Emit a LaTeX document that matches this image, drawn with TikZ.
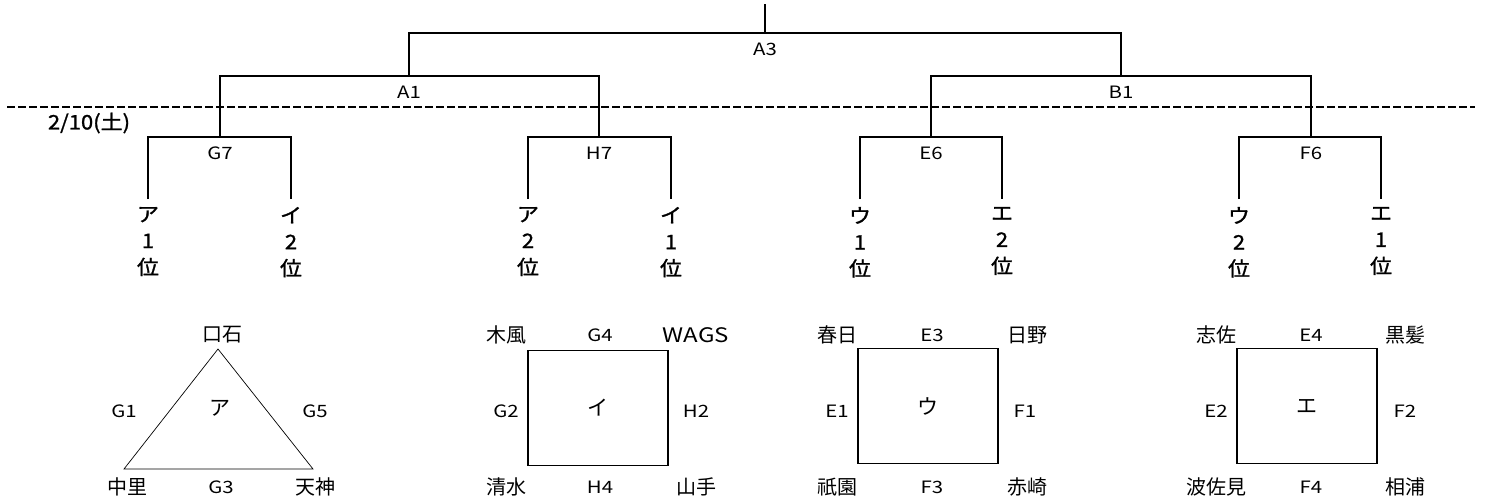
\documentclass[tikz,border=0pt]{standalone}
\usepackage{fontspec}
\setmainfont{Noto Sans CJK JP}
\newfontfamily\codefont[FakeStretch=1.2]{Noto Sans CJK JP}
\newfontfamily\teamfont[FakeBold=1.2,FakeStretch=1.1]{Noto Sans CJK JP}
\usetikzlibrary{positioning}
\begin{document}
\begin{tikzpicture}[x=1pt,y=-1pt,
  bracket/.style={line width=1.4pt},
  code/.style={font=\codefont\fontsize{17}{17}\selectfont,inner sep=0pt},
  team/.style={font=\teamfont\fontsize{20}{26.5}\selectfont,align=center,anchor=north,inner sep=0pt,outer sep=8pt},
  place/.style={font=\fontsize{20}{20}\selectfont,inner sep=0pt},
  groupbox/.style={draw,line width=1.4pt,minimum width=140pt,minimum height=115pt,font=\fontsize{21}{21}\selectfont}]
\useasboundingbox (0,0) rectangle (1486,501);
\node[team] (ga1) at (148,199) {ア\\1\\位};
\node[team] (gb2) at (291,199) {イ\\2\\位};
\node[team] (ha2) at (528,199) {ア\\2\\位};
\node[team] (hb1) at (671,199) {イ\\1\\位};
\node[team] (ec1) at (860,199) {ウ\\1\\位};
\node[team] (ed2) at (1002,199) {エ\\2\\位};
\node[team] (fc2) at (1239,199) {ウ\\2\\位};
\node[team] (fd1) at (1381,199) {エ\\1\\位};
\coordinate (g7) at (220,137);
\coordinate (h7) at (599,137);
\coordinate (e6) at (931,137);
\coordinate (f6) at (1311,137);
\coordinate (a1) at (409,76);
\coordinate (b1) at (1121,76);
\coordinate (a3) at (765,33);
\coordinate (top) at (765,4);
\draw[bracket] (ga1.north) |- (g7) -| (gb2.north);
\draw[bracket] (ha2.north) |- (h7) -| (hb1.north);
\draw[bracket] (ec1.north) |- (e6) -| (ed2.north);
\draw[bracket] (fc2.north) |- (f6) -| (fd1.north);
\draw[bracket] (g7) |- (a1) -| (h7);
\draw[bracket] (e6) |- (b1) -| (f6);
\draw[bracket] (a1) |- (a3) -| (b1);
\draw[bracket] (a3) -- (top);
\node[code,below=10pt of a3] (la3) {A3};
\node[code,below=10pt of a1] (la1) {A1};
\node[code,below=10pt of b1] (lb1) {B1};
\node[code,below=10pt of g7] (lg7) {G7};
\node[code,below=10pt of h7] (lh7) {H7};
\node[code,below=10pt of e6] (le6) {E6};
\node[code,below=10pt of f6] (lf6) {F6};
\coordinate (dl) at (7,107);
\coordinate (dr) at (1475,107);
\draw[line width=1.2pt,dash pattern=on 8pt off 3pt] (dl) -- (dr);
\node[font=\teamfont\fontsize{20}{20}\selectfont,inner sep=0pt] (date) at (89,123) {2/10(土)};
\coordinate (ta) at (218,349);
\coordinate (tb) at (124,469);
\coordinate (tc) at (313,469);
\draw[line width=0.7pt] (ta) -- (tb) -- (tc) -- cycle;
\node[font=\fontsize{21}{21}\selectfont] (a) at (220,408) {ア};
\node[place] (kuchi) at (222,335) {口石};
\node[code] (g1) at (124,411) {G1};
\node[code] (g5) at (315,411) {G5};
\node[place] (naka) at (127,487) {中里};
\node[code] (g3) at (221,487) {G3};
\node[place] (ten) at (315,487) {天神};
\node[groupbox] (i) at (598,408) {イ};
\node[place] (kikaze) at (506,335) {木風};
\node[code] (g4) at (600,335) {G4};
\node[place] (wags) at (696,335) {\codefont WAGS};
\node[code] (g2) at (506,411) {G2};
\node[code] (h2) at (696,411) {H2};
\node[place] (shimizu) at (506,487) {清水};
\node[code] (h4) at (600,487) {H4};
\node[place] (yamate) at (696,487) {山手};
\node[groupbox] (u) at (928,406) {ウ};
\node[place] (kasuga) at (837,335) {春日};
\node[code] (e3) at (932,335) {E3};
\node[place] (hino) at (1027,335) {日野};
\node[code] (e1) at (837,411) {E1};
\node[code] (f1) at (1025,411) {F1};
\node[place] (gion) at (837,487) {祇園};
\node[code] (f3) at (932,487) {F3};
\node[place] (akasaki) at (1027,487) {赤崎};
\node[groupbox] (e) at (1307,406) {エ};
\node[place] (shisa) at (1216,335) {志佐};
\node[code] (e4) at (1311,335) {E4};
\node[place] (kurokami) at (1405,335) {黒髪};
\node[code] (e2) at (1216,411) {E2};
\node[code] (f2) at (1405,411) {F2};
\node[place] (hasami) at (1216,487) {波佐見};
\node[code] (f4) at (1311,487) {F4};
\node[place] (ainoura) at (1405,487) {相浦};
\end{tikzpicture}
\end{document}
